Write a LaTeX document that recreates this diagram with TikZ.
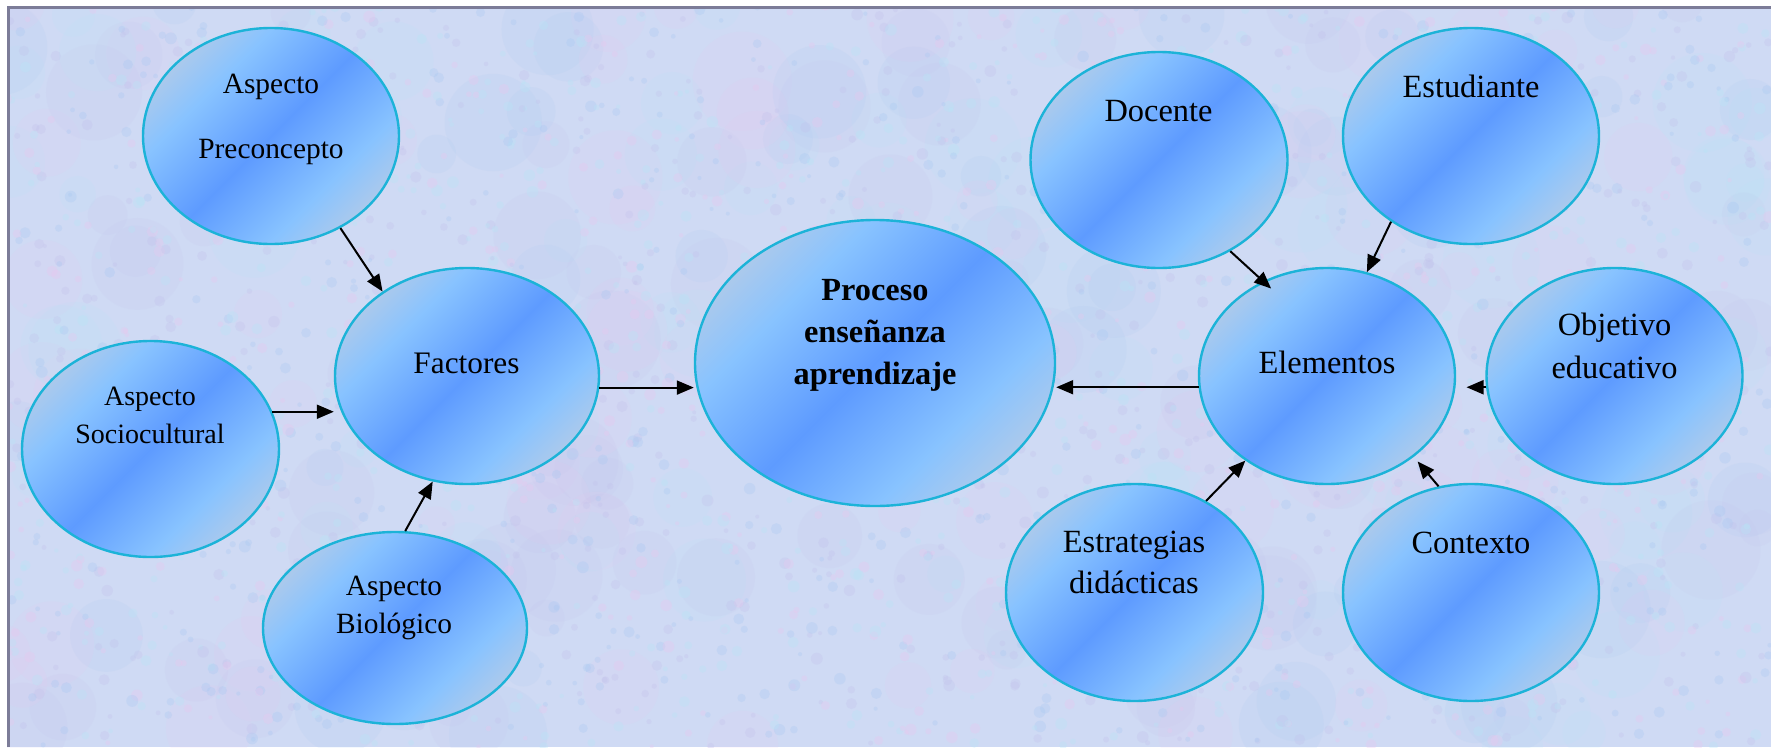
\documentclass[tikz,border=0pt]{standalone}
\usepackage{fontspec}
\setmainfont{Liberation Serif}
\usetikzlibrary{shapes.geometric,arrows.meta}
\definecolor{bgbase}{HTML}{CFDAF4}
\definecolor{tpink}{HTML}{EBC6EE}
\definecolor{tcyan}{HTML}{B6E6F7}
\definecolor{tlav}{HTML}{C2C2EC}
\definecolor{tblue}{HTML}{A8C8F2}
\definecolor{frame}{HTML}{7C7C98}
\definecolor{bord}{HTML}{1CB3D8}
\definecolor{bedge}{HTML}{B6CBE6}
\definecolor{blight}{HTML}{88C3FF}
\definecolor{bmid}{HTML}{5E9BFF}
\pgfdeclareverticalshading{ballsh}{100bp}{color(0bp)=(bedge); color(22bp)=(bedge); color(34bp)=(blight); color(50bp)=(bmid); color(66bp)=(blight); color(78bp)=(bedge); color(100bp)=(bedge)}
\tikzset{
  ball/.style={ellipse, draw=bord, line width=2.4pt, shading=ballsh, shading angle=45, inner sep=0pt},
  lbl/.style 2 args={anchor=base, inner sep=0pt, font=\fontsize{#1}{#2}\selectfont},
  blbl/.style={anchor=base, inner sep=0pt, font=\fontsize{32.3}{42}\selectfont\bfseries},
  arr/.style={-{Triangle[length=17pt,width=14pt]}, line width=2pt, black}
}
\begin{document}
\begin{tikzpicture}[x=1pt,y=-1pt]
\useasboundingbox (0,0) rectangle (1771,747);
% textured background
\fill[bgbase] (7,6) rectangle (1771,747);
\begin{scope}
\clip (7,6) rectangle (1771,747);
\pgfmathsetseed{11}
\foreach \i in {1,...,320}{
  \pgfmathsetmacro{\bx}{rnd*1771}
  \pgfmathsetmacro{\by}{rnd*747}
  \pgfmathsetmacro{\br}{18+rnd*32}
  \pgfmathtruncatemacro{\bc}{int(rnd*4)}
  \ifcase\bc \def\bcol{tpink}\or \def\bcol{tcyan}\or \def\bcol{tlav}\else \def\bcol{tblue}\fi
  \fill[\bcol, opacity=0.13] (\bx,\by) circle[radius=\br];
}
\foreach \i in {1,...,2600}{
  \pgfmathsetmacro{\bx}{rnd*1771}
  \pgfmathsetmacro{\by}{rnd*747}
  \pgfmathsetmacro{\br}{2+rnd*4}
  \pgfmathtruncatemacro{\bc}{int(rnd*4)}
  \ifcase\bc \def\bcol{tpink}\or \def\bcol{tcyan}\or \def\bcol{tlav}\else \def\bcol{tblue}\fi
  \fill[\bcol, opacity=0.3] (\bx,\by) circle[radius=\br];
}
\end{scope}
\draw[frame, line width=3pt] (8.5,747) -- (8.5,7.5) -- (1771,7.5);

% ellipses
\node[ball, minimum width=256pt, minimum height=216pt] (pre)  at (271,136) {};
\node[ball, minimum width=264pt, minimum height=216pt] (fac)  at (467,376) {};
\node[ball, minimum width=257pt, minimum height=216pt] (soc)  at (150.5,449) {};
\node[ball, minimum width=264pt, minimum height=192pt] (bio)  at (395,628) {};
\node[ball, minimum width=360pt, minimum height=286pt] (pro)  at (875,363) {};
\node[ball, minimum width=257pt, minimum height=216pt] (doc)  at (1159,160) {};
\node[ball, minimum width=256pt, minimum height=216pt] (est)  at (1471,136) {};
\node[ball, minimum width=256pt, minimum height=216pt] (ele)  at (1327,376) {};
\node[ball, minimum width=256pt, minimum height=216pt] (obj)  at (1614.5,376) {};
\node[ball, minimum width=257pt, minimum height=217pt] (estr) at (1134.5,592.5) {};
\node[ball, minimum width=256pt, minimum height=217pt] (con)  at (1471,592.5) {};

% labels
\node[lbl={29.4}{65}] (tpre) at (271,93) {\begin{tabular}[t]{@{}c@{}}Aspecto\\Preconcepto\end{tabular}};
\node[lbl={31.3}{38}] (tfac) at (466.5,373) {Factores};
\node[lbl={28}{38}] (tsoc) at (150,405) {\begin{tabular}[t]{@{}c@{}}Aspecto\\Sociocultural\end{tabular}};
\node[lbl={29.4}{38}] (tbio) at (394,595) {\begin{tabular}[t]{@{}c@{}}Aspecto\\Biológico\end{tabular}};
\node[blbl] (tpro) at (875,300) {\begin{tabular}[t]{@{}c@{}}Proceso\\enseñanza\\aprendizaje\end{tabular}};
\node[lbl={32.4}{40}] (tdoc) at (1158.5,121) {Docente};
\node[lbl={32.4}{40}] (test) at (1471,97) {Estudiante};
\node[lbl={32.4}{40}] (tele) at (1327,373) {Elementos};
\node[lbl={32.4}{43}] (tobj) at (1614.5,335) {\begin{tabular}[t]{@{}c@{}}Objetivo\\educativo\end{tabular}};
\node[lbl={32.4}{41}] (testr) at (1134,552) {\begin{tabular}[t]{@{}c@{}}Estrategias\\didácticas\end{tabular}};
\node[lbl={32.4}{40}] (tcon) at (1471,553) {Contexto};

% connectors
\draw[arr] (pre.-53) -- (fac.135);
\draw[arr] (soc.17) -- (soc.17 -| fac.west);
\draw[arr] (bio.84) -- (fac.-108);
\draw[arr] (fac.-5) -- (fac.-5 -| pro.west);
\draw[arr] (ele.185) -- (ele.185 -| pro.east);
\draw[arr, shorten >=-11pt] (doc.-52) -- (ele.124);
\draw[arr] (est.-133) -- (ele.69);
\draw[arr, shorten >=11pt] (obj.185) -- (ele.-5);
\draw[arr] (estr.52) -- (ele.-134);
\draw[arr, shorten >=6pt] (con.107) -- (ele.-43);
\end{tikzpicture}
\end{document}
